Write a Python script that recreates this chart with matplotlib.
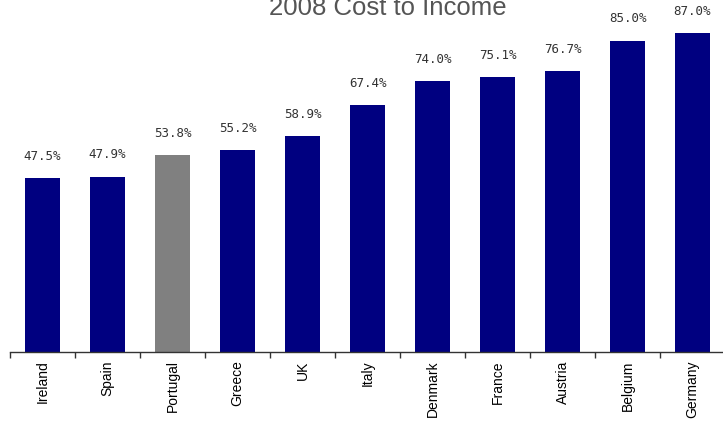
import numpy as np
import matplotlib
matplotlib.use('Agg')
from matplotlib import pyplot as plt

# cost to income ratio by country, 2008 (%)
countries = ['Ireland', 'Spain', 'Portugal', 'Greece', 'UK', 'Italy',
             'Denmark', 'France', 'Austria', 'Belgium', 'Germany']
ratios = [47.5, 47.9, 53.8, 55.2, 58.9, 67.4, 74.0, 75.1, 76.7, 85.0, 87.0]
highlight = 'Portugal'

W, H = 723, 421
fig = plt.figure(figsize=(W / 100., H / 100.), dpi=100)

# axes placed in pixel terms: baseline at y=352, slots 65px wide from x=10
ymax = 100.0
px_per_unit = 174 / 47.5
ax_h = ymax * px_per_unit
ax = fig.add_axes([10. / W, (H - 352.) / H, 65. * 11 / W, ax_h / H])

x = np.arange(len(countries))
colors = ['#808080' if c == highlight else '#000080' for c in countries]
bars = ax.bar(x, ratios, width=0.54, color=colors, zorder=2)

for b, v in zip(bars, ratios):
    ax.annotate('%.1f%%' % v, (b.get_x() + b.get_width() / 2, v),
                xytext=(0, 11), textcoords='offset points',
                ha='center', va='bottom', fontsize=9,
                family='DejaVu Sans Mono', color='#333333')

ax.set_xlim(-0.5, len(countries) - 0.5)
ax.set_ylim(0, ymax)

for s in ['top', 'right', 'left']:
    ax.spines[s].set_visible(False)
ax.spines['bottom'].set_color('#333333')
ax.spines['bottom'].set_linewidth(1.0)
ax.set_yticks([])

# labels under the bars, tick marks on the slot boundaries
ax.set_xticks(x)
ax.set_xticklabels(countries, rotation=90, fontsize=10,
                   family='Liberation Sans', color='black')
ax.tick_params(axis='x', which='major', length=0, pad=6)
ax.set_xticks(np.arange(len(countries) + 1) - 0.5, minor=True)
ax.tick_params(axis='x', which='minor', length=4, color='#333333', width=1)

fig.text(388. / W, (H - 15.) / H, '2008 Cost to Income', ha='center',
         va='baseline', fontsize=18.5, family='Liberation Sans',
         color='#555555')

fig.savefig('out.png', dpi=100)
